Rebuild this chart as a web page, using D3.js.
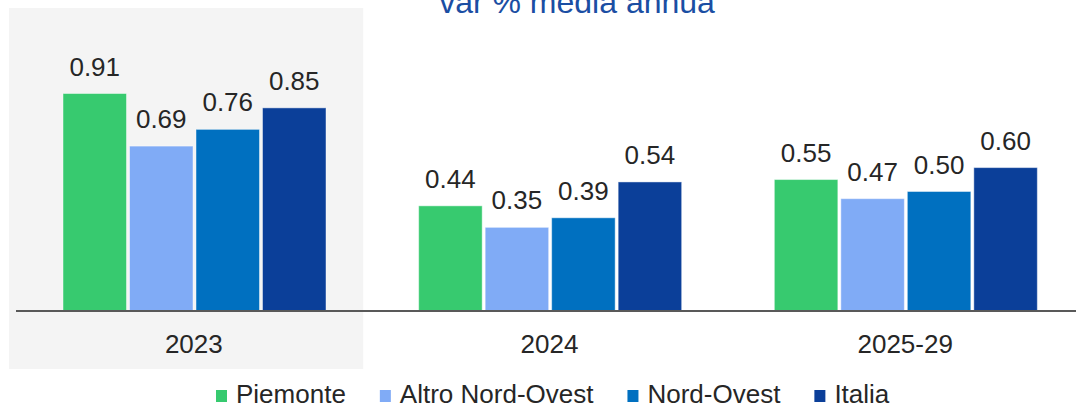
<!DOCTYPE html>
<html>
<head>
<meta charset="utf-8">
<script src="https://cdn.jsdelivr.net/npm/d3@7"></script>
<style>
  html, body { margin: 0; padding: 0; background: #ffffff; }
  svg { display: block; font-family: "Liberation Sans", Arial, sans-serif; }
</style>
</head>
<body>
<svg id="chart" width="1076" height="407"></svg>
<script>
// ---- data ----
const categories = ["2023", "2024", "2025-29"];
const seriesNames = ["Piemonte", "Altro Nord-Ovest", "Nord-Ovest", "Italia"];
const piemonte = [0.91, 0.44, 0.55];
const altroNordOvest = [0.69, 0.35, 0.47];
const nordOvest = [0.76, 0.39, 0.50];
const italia = [0.85, 0.54, 0.60];
const seriesColors = ["#37ca6f", "#80abf6", "#0070c0", "#0b3f99"];
const titleText = "var % media annua";
const highlighted = "2023";

const seriesValues = [piemonte, altroNordOvest, nordOvest, italia];
const table = categories.map((c, i) => ({
  category: c,
  values: seriesNames.map((s, j) => ({ series: s, value: seriesValues[j][i], color: seriesColors[j] }))
}));

const svg = d3.select("#chart");

const x0 = d3.scaleBand().domain(categories).range([16, 1083]).padding(0);
const x1 = d3.scaleBand().domain(seriesNames).range([47, 310]).paddingInner(0.045).paddingOuter(0);
const y = d3.scaleLinear().domain([0, 1]).range([311, 72]);

// highlight background for first period
svg.append("rect")
  .attr("x", x0(highlighted) - 7)
  .attr("y", 8)
  .attr("width", x0.step() - 1.5)
  .attr("height", 361)
  .attr("fill", "#f4f4f4");

// title
svg.append("text")
  .attr("x", 577)
  .attr("y", 13)
  .attr("text-anchor", "middle")
  .attr("font-size", 32)
  .attr("fill", "#1b4ea3")
  .text(titleText);

// bars
const groups = svg.selectAll("g.grp")
  .data(table)
  .join("g")
  .attr("class", "grp")
  .attr("transform", d => `translate(${x0(d.category)},0)`);

groups.selectAll("rect")
  .data(d => d.values)
  .join("rect")
  .attr("x", d => x1(d.series))
  .attr("y", d => y(d.value))
  .attr("width", x1.bandwidth())
  .attr("height", d => y(0) - y(d.value))
  .attr("fill", d => d.color)
  .attr("stroke", "rgba(255,255,255,0.45)")
  .attr("stroke-width", 1);

groups.selectAll("text.val")
  .data(d => d.values)
  .join("text")
  .attr("class", "val")
  .attr("x", d => x1(d.series) + x1.bandwidth() / 2)
  .attr("y", d => y(d.value) - 18)
  .attr("text-anchor", "middle")
  .attr("font-size", 26)
  .attr("fill", "#262626")
  .text(d => d.value.toFixed(2));

// axis (baseline + category labels)
const axis = d3.axisBottom(x0).tickSize(0).tickPadding(0);
const axisG = svg.append("g")
  .attr("transform", `translate(0,${y(0)})`)
  .call(axis);
axisG.select(".domain").remove();
axisG.selectAll(".tick text")
  .attr("font-family", "Liberation Sans, Arial, sans-serif")
  .attr("font-size", 26)
  .attr("fill", "#262626")
  .attr("dy", null)
  .attr("y", 41.5);

svg.append("line")
  .attr("x1", 16).attr("x2", 1076)
  .attr("y1", y(0)).attr("y2", y(0))
  .attr("stroke", "#595959")
  .attr("stroke-width", 2);

// legend
const legend = svg.append("g");
let lx = 216;
seriesNames.forEach((s, i) => {
  legend.append("rect")
    .attr("x", lx).attr("y", 390)
    .attr("width", 11).attr("height", 12)
    .attr("fill", seriesColors[i]);
  const t = legend.append("text")
    .attr("x", lx + 20).attr("y", 403)
    .attr("font-size", 26)
    .attr("fill", "#262626")
    .text(s);
  lx = lx + 20 + t.node().getComputedTextLength() + 34;
});
</script>
</body>
</html>
